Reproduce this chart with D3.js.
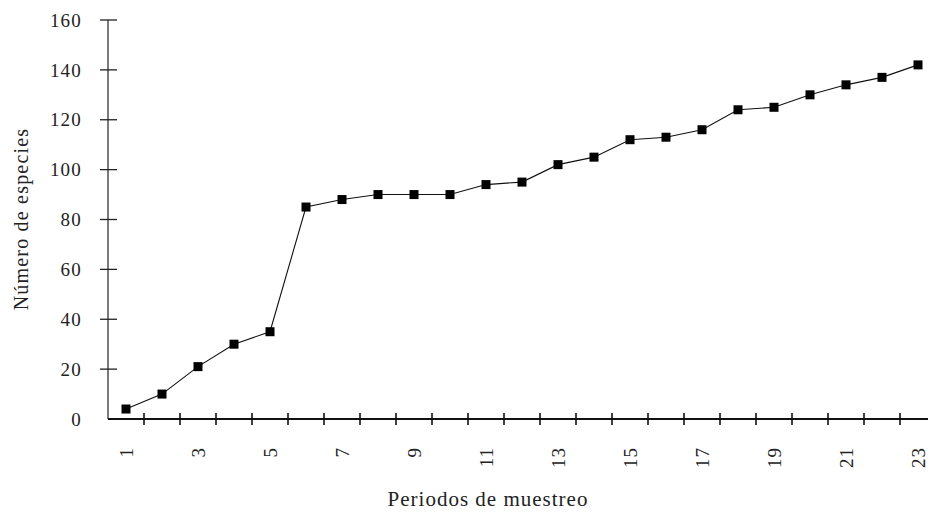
<!DOCTYPE html>
<html>
<head>
<meta charset="utf-8">
<script src="https://cdn.jsdelivr.net/npm/d3@7"></script>
<style>
  html, body { margin: 0; padding: 0; background: #fff; }
  svg { display: block; }
  text { font-family: "Liberation Serif", "DejaVu Serif", serif; fill: #222; }
</style>
</head>
<body>
<svg id="chart" width="928" height="515"></svg>
<script>
// Data
const periods = d3.range(1, 24);
const species = [4, 10, 21, 30, 35, 85, 88, 90, 90, 90, 94, 95, 102, 105, 112, 113, 116, 124, 125, 130, 134, 137, 142];
const xTickLabels = [1, 3, 5, 7, 9, 11, 13, 15, 17, 19, 21, 23];
const yTickValues = [0, 20, 40, 60, 80, 100, 120, 140, 160];
const xTitle = "Periodos de muestreo";
const yTitle = "Número de especies";

const svg = d3.select("#chart");
const x0 = 108, bandW = 36;
const x = d3.scaleLinear().domain([0.5, 23.5]).range([x0, x0 + 23 * bandW]);
const y = d3.scaleLinear().domain([0, 160]).range([419, 20]);

// Y axis
svg.append("line")
  .attr("x1", x0).attr("x2", x0)
  .attr("y1", y(0)).attr("y2", y(160))
  .attr("stroke", "#222").attr("stroke-width", 1.2);
svg.selectAll(".ytick").data(yTickValues.filter(d => d > 0)).join("line")
  .attr("x1", x0 - 8).attr("x2", x0 + 9)
  .attr("y1", d => y(d)).attr("y2", d => y(d))
  .attr("stroke", "#222").attr("stroke-width", 1.3);
svg.selectAll(".ylab").data(yTickValues).join("text")
  .attr("x", 82).attr("y", d => y(d))
  .attr("dy", "0.35em")
  .attr("text-anchor", "end")
  .attr("font-size", 19)
  .attr("letter-spacing", 1.2)
  .text(d => d);

// X axis
svg.append("line")
  .attr("x1", x0).attr("x2", 928)
  .attr("y1", y(0)).attr("y2", y(0))
  .attr("stroke", "#111").attr("stroke-width", 2);
svg.selectAll(".xtick").data(d3.range(1, 23).map(k => k + 0.5)).join("line")
  .attr("x1", d => x(d)).attr("x2", d => x(d))
  .attr("y1", y(0) - 6).attr("y2", y(0) + 6)
  .attr("stroke", "#111").attr("stroke-width", 1.6);
svg.selectAll(".xlab").data(xTickLabels).join("text")
  .attr("transform", d => `translate(${x(d)},447) rotate(-90)`)
  .attr("text-anchor", "end")
  .attr("dominant-baseline", "central")
  .attr("font-size", 19)
  .attr("letter-spacing", 1)
  .text(d => d);

// Titles
svg.append("text")
  .attr("x", 488).attr("y", 506)
  .attr("text-anchor", "middle")
  .attr("font-size", 21)
  .attr("letter-spacing", 1)
  .text(xTitle);
svg.append("text")
  .attr("transform", "translate(28,219) rotate(-90)")
  .attr("text-anchor", "middle")
  .attr("font-size", 20)
  .attr("letter-spacing", 1.2)
  .text(yTitle);

// Line
const line = d3.line().x((d, i) => x(periods[i])).y(d => y(d));
svg.append("path")
  .datum(species)
  .attr("d", line)
  .attr("fill", "none")
  .attr("stroke", "#111")
  .attr("stroke-width", 1.1);

// Markers
const s = 9;
svg.selectAll(".pt").data(species).join("rect")
  .attr("x", (d, i) => x(periods[i]) - s / 2)
  .attr("y", d => y(d) - s / 2)
  .attr("width", s).attr("height", s)
  .attr("fill", "#000");
</script>
</body>
</html>
